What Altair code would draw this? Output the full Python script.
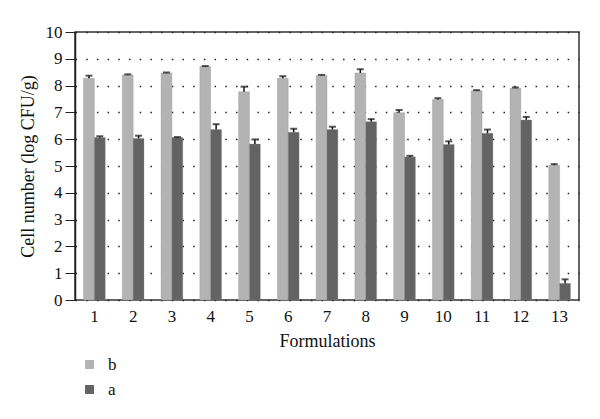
import altair as alt
import pandas as pd

formulations = [str(i) for i in range(1, 14)]
b_vals = [8.27, 8.40, 8.47, 8.71, 7.77, 8.27, 8.38, 8.47, 6.99, 7.48, 7.81, 7.90, 5.03]
b_err = [0.10, 0.02, 0.02, 0.02, 0.19, 0.08, 0.02, 0.14, 0.10, 0.05, 0.02, 0.03, 0.04]
a_vals = [6.06, 6.03, 6.06, 6.36, 5.82, 6.26, 6.36, 6.65, 5.34, 5.80, 6.22, 6.72, 0.62]
a_err = [0.05, 0.10, 0.02, 0.20, 0.17, 0.13, 0.10, 0.10, 0.04, 0.12, 0.14, 0.11, 0.15]

rows = []
for f, v, e in zip(formulations, b_vals, b_err):
    rows.append({"Formulation": f, "series": "b", "value": v, "top": v + e})
for f, v, e in zip(formulations, a_vals, a_err):
    rows.append({"Formulation": f, "series": "a", "value": v, "top": v + e})
df = pd.DataFrame(rows)

FONT = "Liberation Serif"
x = alt.X("Formulation:N", sort=formulations,
          scale=alt.Scale(paddingInner=0.44, paddingOuter=0.22),
          axis=alt.Axis(title="Formulations", labelAngle=0, ticks=False, domain=False,
                        labelFontSize=17, titleFontSize=18, labelPadding=8,
                        titlePadding=8, titleFontWeight="normal",
                        labelFont=FONT, titleFont=FONT, labelColor="#111", titleColor="#111"))
xo = alt.XOffset("series:N", sort=["b", "a"], scale=alt.Scale(domain=["b", "a"], paddingInner=0, paddingOuter=0))
color = alt.Color("series:N", sort=["b", "a"],
                  scale=alt.Scale(domain=["b", "a"], range=["#b3b3b3", "#636363"]),
                  legend=alt.Legend(title=None, orient="none", legendX=6, legendY=324,
                                    symbolType="square", symbolSize=80, symbolStrokeWidth=0,
                                    labelFontSize=17, labelFont=FONT, labelColor="#111",
                                    rowPadding=7, labelOffset=10))
y_axis = alt.Axis(title="Cell number (log CFU/g)", values=list(range(0, 11)),
                  labelOverlap=False, tickSize=10, tickColor="#222", domainColor="#222",
                  domainWidth=1.5, grid=True, gridDash=[1.5, 9.2], gridColor="#222",
                  gridWidth=1.5, labelFontSize=17, titleFontSize=18, titleFontWeight="normal",
                  labelFont=FONT, titleFont=FONT, labelColor="#111", titleColor="#111",
                  labelPadding=3, titlePadding=8)
yscale = alt.Scale(domain=[0, 10], nice=False)

base = alt.Chart(df)
bars = base.mark_bar(stroke="#888", strokeWidth=0.3).encode(
    x=x, xOffset=xo, y=alt.Y("value:Q", scale=yscale, axis=y_axis), color=color)
err = base.mark_rule(color="#111", strokeWidth=1.5).encode(
    x=x, xOffset=xo, y=alt.Y("value:Q", scale=yscale, axis=y_axis), y2="top:Q")
caps = base.mark_tick(color="#111", thickness=2, size=7).encode(
    x=x, xOffset=xo, y=alt.Y("top:Q", scale=yscale, axis=y_axis))

chart = alt.layer(bars, err, caps).properties(
    width=504, height=268,
    autosize=alt.AutoSizeParams(type="none"),
    padding={"left": 67, "top": 24, "right": 13, "bottom": 103},
).configure_view(stroke="#333", strokeWidth=1.5).configure_axisX(
    domain=True, domainColor="#222", domainWidth=2)

chart.save("out.html", embed_options={"renderer": "svg", "actions": False})
